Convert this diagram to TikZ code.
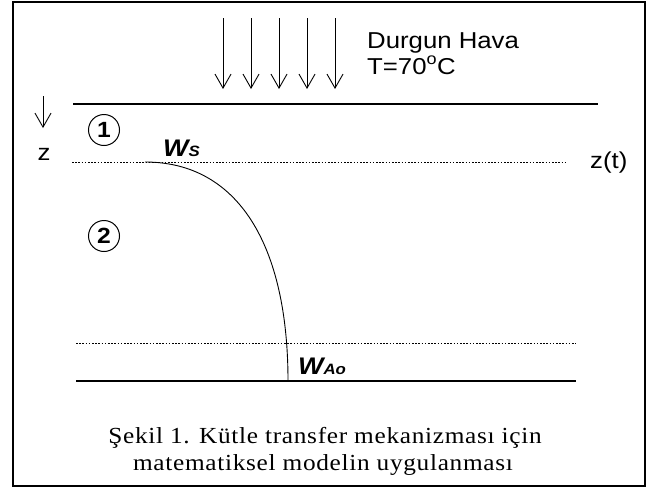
\documentclass[tikz,border=0pt]{standalone}
\usepackage{fontspec}
\setmainfont{Liberation Sans}
\newfontfamily\diagsans[FakeStretch=1.12]{Liberation Sans}
\newfontfamily\captionserif[FakeStretch=1.1, LetterSpace=3]{Liberation Serif}
\usetikzlibrary{arrows.meta,positioning}
\tikzset{
  layerline/.style={line width=1.1pt},
  interface/.style={line width=0.8pt, dash pattern=on 1.5pt off 1.7pt},
  airarrow/.style={line width=0.9pt, -{Straight Barb[length=14pt, width=16pt, line width=0.9pt]}},
  zonelabel/.style={draw, circle, line width=1pt, minimum size=31pt, inner sep=0pt, font=\diagsans\fontsize{22}{22}\selectfont\bfseries},
  plainlabel/.style={inner sep=0pt, font=\diagsans\fontsize{23}{26}\selectfont},
  conclabel/.style={inner sep=0pt, font=\diagsans\fontsize{24}{24}\selectfont\bfseries\itshape},
  capline/.style={inner sep=0pt, font=\captionserif\fontsize{23}{26}\selectfont}
}
\begin{document}
\begin{tikzpicture}[x=1pt, y=-1pt]
\useasboundingbox (0,0) rectangle (650,491);
\draw[line width=1.4pt] (13,2) rectangle (645,486);
% still air blowing down
\foreach \i/\ax in {1/223, 2/251, 3/279, 4/307, 5/335} {
  \coordinate (air\i top) at (\ax,18);
  \coordinate (air\i tip) at (\ax,89);
  \draw[airarrow] (air\i top) -- (air\i tip);
}
\node[plainlabel, anchor=base west] (air) at (367,48) {Durgun Hava};
\node[plainlabel, anchor=base west] (temp) at (367,74) {T=70\textsuperscript{o}C};
% layers
\draw[layerline] (73,104) -- (598,104);
\draw[interface] (72,162) -- (567,162);
\draw[interface] (76,343) -- (576,343);
\draw[layerline] (76,381) -- (576,381);
% depth axis
\coordinate (ztop) at (43,96);
\coordinate (ztip) at (43,128);
\draw[airarrow] (ztop) -- (ztip);
\node[plainlabel, anchor=base] (z) at (44,160) {z};
\node[plainlabel, anchor=base west] (zt) at (590,168) {z(t)};
\node[zonelabel] (zone1) at (104,130) {1};
\node[zonelabel] (zone2) at (104,236) {2};
% concentration profile
\coordinate (ws) at (145,162);
\coordinate (wao) at (288,381);
\draw[line width=0.9pt] (ws) .. controls (238,162) and (288,245) .. (wao);
\node[conclabel, anchor=base west] (wslabel) at (163,156) {W{\fontsize{15}{15}\selectfont S}};
\node[conclabel, anchor=base west] (waolabel) at (298,374) {W{\fontsize{15}{15}\selectfont Ao}};
% caption
\node[capline, anchor=base] (cap1) at (325,443) {Şekil 1. Kütle transfer mekanizması için};
\node[capline, anchor=base] (cap2) at (323,470) {matematiksel modelin uygulanması};
\end{tikzpicture}
\end{document}
